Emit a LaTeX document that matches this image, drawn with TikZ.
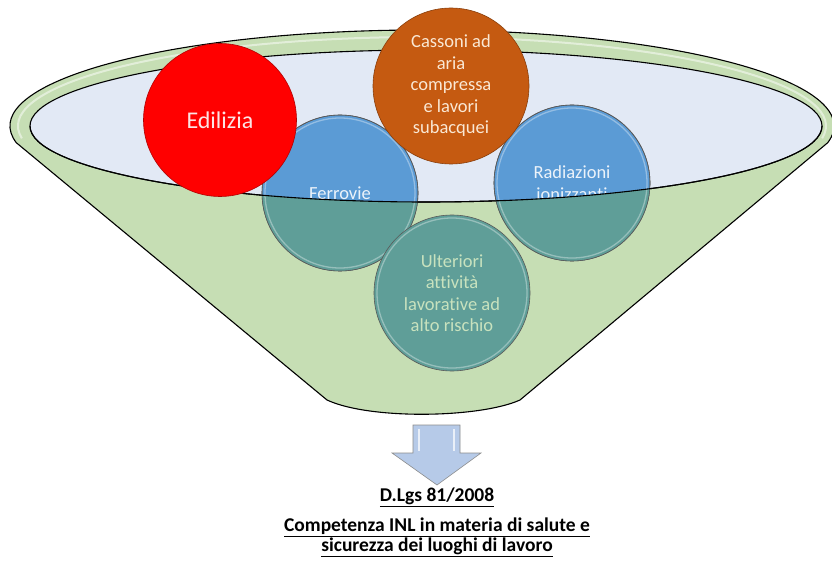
\documentclass[tikz,border=0pt]{standalone}
\usepackage{fontspec}
\setmainfont{Carlito}[Ligatures=NoCommon]
\definecolor{fgreen}{RGB}{198,222,180}
\definecolor{innerblue}{RGB}{226,233,245}
\definecolor{cblue}{RGB}{91,155,213}
\definecolor{cteal}{RGB}{95,158,152}
\definecolor{cred}{RGB}{255,0,0}
\definecolor{corange}{RGB}{197,90,17}
\definecolor{arrowblue}{RGB}{182,202,232}
\definecolor{paletext}{RGB}{200,226,190}
\definecolor{bluetext}{RGB}{236,243,250}
\definecolor{redtext}{RGB}{252,228,228}
\definecolor{orangetext}{RGB}{250,232,212}
\tikzset{
  bubble/.style={circle, minimum size=156, inner sep=0pt, align=center,
    draw=black!65, line width=0.6pt, font=\fontsize{18.5}{21.5}\selectfont},
  funnelline/.style={draw=black, line width=1.1pt},
  gloss/.style={draw=white, opacity=0.35, line width=1.3pt},
  captext/.style={font=\fontsize{19.5}{21}\selectfont\bfseries, inner sep=0pt}
}
\begin{document}
\begin{tikzpicture}[x=1pt,y=-1pt]
\useasboundingbox (0,0) rectangle (832,561);
% funnel body
\fill[fgreen] (422,126) ++(170:412 and 96) arc[start angle=170,end angle=370,x radius=412,y radius=96]
  -- (520,400) .. controls (480,418) and (370,420) .. (327,400) -- cycle;
\draw[funnelline] (422,126) ++(170:412 and 96) coordinate (lt)
  arc[start angle=170,end angle=370,x radius=412,y radius=96] coordinate (rt)
  -- (520,400) .. controls (480,418) and (370,420) .. (327,400) -- (lt);
% rim highlight
\draw[white, opacity=0.5, line width=2pt] (422,126) ++(172:404 and 89)
  arc[start angle=172,end angle=368,x radius=404,y radius=89];
% inner ellipse (opening)
\filldraw[fill=innerblue, draw=black, line width=1.1pt] (426,126) ellipse[x radius=396, y radius=76];
% circles inside the funnel
\node[bubble, fill=cblue, text=bluetext] (fer) at (340,193) {Ferrovie};
\node[bubble, fill=cblue, text=bluetext] (rad) at (572,183) {Radiazioni\\ionizzanti};
% the front of the funnel covers their lower parts
\begin{scope}
  \clip (822,126) arc[start angle=0,end angle=180,x radius=396,y radius=76] -- (30,600) -- (822,600) -- cycle;
  \fill[cteal] (fer.center) circle[radius=78];
  \fill[cteal] (rad.center) circle[radius=78];
\end{scope}
\draw[draw=black!65, line width=0.6pt] (fer.center) circle[radius=78];
\draw[draw=black!65, line width=0.6pt] (rad.center) circle[radius=78];
\draw[gloss] (fer.center) circle[radius=75];
\draw[gloss] (rad.center) circle[radius=75];
\node[bubble, fill=cteal, text=paletext] (ult) at (452,293) {Ulteriori\\attività\\lavorative ad\\alto rischio};
\draw[gloss] (ult.center) circle[radius=75];
% front edge of the opening over the circles
\draw[draw=black, line width=1.1pt] (822,126) arc[start angle=0,end angle=180,x radius=396,y radius=76];
% circles in front
\node[bubble, minimum size=153, fill=cred, draw=red!70!black, text=redtext, font=\fontsize{24}{28}\selectfont] (edi) at (220,120) {Edilizia};
\node[bubble, fill=corange, draw=corange!70!black, text=orangetext] (cas) at (451,86) {Cassoni ad\\aria\\compressa\\e lavori\\subacquei};
% arrow
\fill[arrowblue, draw=black!45, line width=0.6pt] (413,425) coordinate (a1) -- (460,425) -- (460,453) -- (481,453) -- (437,485) coordinate (tip) -- (392,453) -- (413,453) -- cycle;
\draw[white, opacity=0.7, line width=1.6pt] (419,429) -- (419,451);
\draw[white, opacity=0.7, line width=1.6pt] (454,429) -- (454,451);
% caption
\node[captext] (law) at (437,497) {\underline{D.Lgs 81/2008}};
\node[captext] (comp) at (437,527) {\underline{Competenza INL in materia di salute e}};
\node[captext] (sic) at (437,547) {\underline{sicurezza dei luoghi di lavoro}};
\end{tikzpicture}
\end{document}
